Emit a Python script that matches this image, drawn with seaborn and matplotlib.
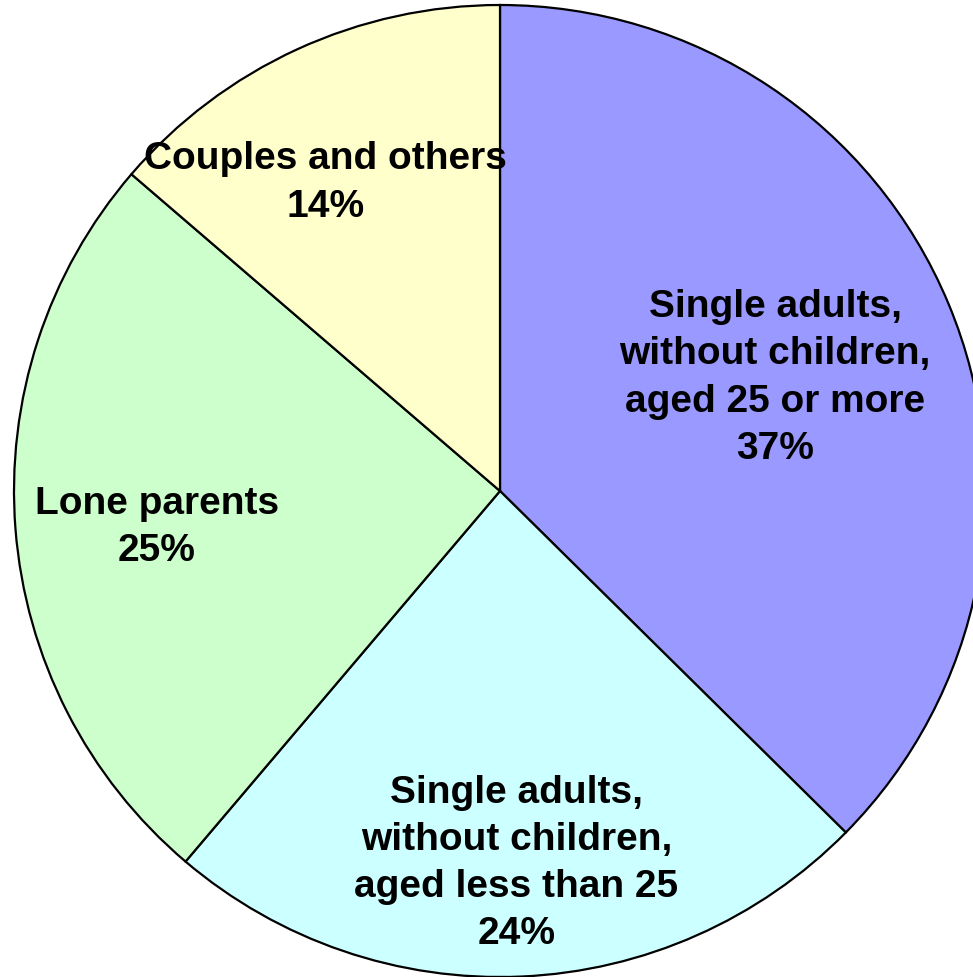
import numpy as np
import matplotlib.pyplot as plt
import seaborn as sns

categories = [
    "Single adults,\nwithout children,\naged 25 or more",
    "Single adults,\nwithout children,\naged less than 25",
    "Lone parents",
    "Couples and others",
]
shares = [37.4, 23.8, 25.1, 13.7]
colors = ["#9999FF", "#CCFFFF", "#CCFFCC", "#FFFFCC"]
# label placement: fraction of radius and angle tweak from the slice middle
label_r = [0.613, 0.765, 0.71, 0.73]
label_dang = [-0.2, 0, 1.4, 4.8]

sns.set_style("white")
plt.rcParams["font.family"] = ["Liberation Sans", "DejaVu Sans"]

fig = plt.figure(figsize=(9.73, 9.78), dpi=100)
ax = fig.add_axes([0, 0, 1, 1])

R = 486
wedges, _ = ax.pie(
    shares,
    colors=colors,
    startangle=90,
    counterclock=False,
    radius=1,
    wedgeprops=dict(edgecolor="black", linewidth=1.6),
)

for w, name, s, r, da in zip(wedges, categories, shares, label_r, label_dang):
    mid = np.deg2rad((w.theta1 + w.theta2) / 2 + da)
    ax.text(r * np.cos(mid), r * np.sin(mid), f"{name}\n{round(s)}%",
            ha="center", va="center", fontsize=28, fontweight="bold",
            color="black", linespacing=1.4)

ax.set_xlim(-500 / R, 473 / R)
ax.set_ylim(-486 / R, 492 / R)
ax.set_aspect("equal")
ax.axis("off")

fig.savefig("out.png", dpi=100)
